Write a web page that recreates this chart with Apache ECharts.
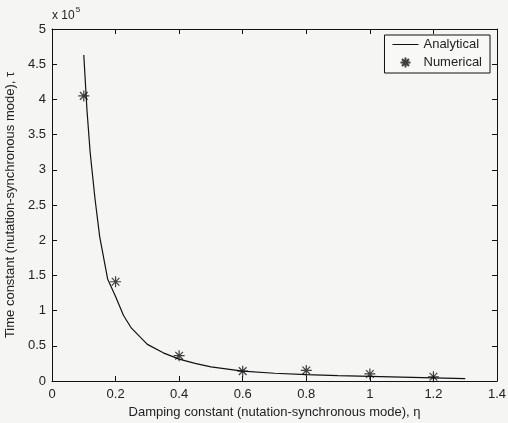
<!DOCTYPE html>
<html>
<head>
<meta charset="utf-8">
<script src="https://cdn.jsdelivr.net/npm/echarts@6/dist/echarts.min.js"></script>
<style>
  html, body { margin: 0; padding: 0; background: #f5f5f3; }
  #chart { width: 508px; height: 423px; }
</style>
</head>
<body>
<div id="chart"></div>
<script>
// Analytical curve: damping constant η and time constant τ (×10^5)
const analyticalEta = [0.1, 0.11, 0.12, 0.135, 0.15, 0.175, 0.2, 0.225, 0.25, 0.3, 0.35, 0.4, 0.45, 0.5, 0.6, 0.7, 0.8, 0.9, 1.0, 1.1, 1.2, 1.3];
const analyticalTau = [4.63, 3.85, 3.25, 2.6, 2.05, 1.45, 1.2, 0.93, 0.75, 0.52, 0.4, 0.31, 0.25, 0.2, 0.14, 0.11, 0.09, 0.075, 0.065, 0.055, 0.045, 0.035];

// Numerical results
const numericalEta = [0.1, 0.2, 0.4, 0.6, 0.8, 1.0, 1.2];
const numericalTau = [4.05, 1.41, 0.36, 0.14, 0.15, 0.1, 0.06];

// Axis ticks
const xTicks = [0, 0.2, 0.4, 0.6, 0.8, 1, 1.2, 1.4];
const yTicks = [0, 0.5, 1, 1.5, 2, 2.5, 3, 3.5, 4, 4.5, 5];

const pair = (xs, ys) => xs.map((x, i) => [x, ys[i]]);

// Asterisk marker: four crossing strokes
const asterisk = 'path://M0,5L10,5M5,0L5,10M1.5,1.5L8.5,8.5M8.5,1.5L1.5,8.5';
// Legend swatch for the solid line: a thin horizontal bar
const lineSwatch = 'path://M0,0L26,0L26,1L0,1Z';

const font = '"Liberation Sans", Arial, sans-serif';
const tickLabel = (list) => (v) => {
  const t = list.find(k => Math.abs(k - v) < 1e-9);
  return t === undefined ? '' : String(t);
};
const baseAxis = {
  type: 'value',
  axisLine: { show: true, onZero: false, lineStyle: { color: '#111', width: 1 } },
  axisTick: { show: true, inside: true, length: 5, lineStyle: { color: '#111' } },
  splitLine: { show: false }
};

const chart = echarts.init(document.getElementById('chart'), null, { renderer: 'canvas' });
chart.setOption({
  backgroundColor: '#f5f5f3',
  animation: false,
  textStyle: { fontFamily: font },
  grid: { left: 52, right: 11, top: 29, bottom: 42, containLabel: false, outerBoundsMode: 'none' },
  xAxis: [
    Object.assign({}, baseAxis, {
      min: 0, max: 1.4, interval: 0.2, position: 'bottom',
      axisLabel: { color: '#222', fontSize: 13, fontFamily: font, margin: 7, formatter: tickLabel(xTicks) },
      name: 'Damping constant (nutation-synchronous mode), η',
      nameLocation: 'middle', nameGap: 24,
      nameTextStyle: { color: '#222', fontSize: 13, fontFamily: font }
    }),
    Object.assign({}, baseAxis, {
      min: 0, max: 1.4, interval: 0.2, position: 'top',
      axisLabel: { show: false }
    })
  ],
  yAxis: [
    Object.assign({}, baseAxis, {
      min: 0, max: 5, interval: 0.5, position: 'left',
      axisLabel: { color: '#222', fontSize: 13, fontFamily: font, margin: 6, formatter: tickLabel(yTicks) },
      name: 'Time constant (nutation-synchronous mode), τ',
      nameLocation: 'middle', nameGap: 31, nameRotate: 90,
      nameTextStyle: { color: '#222', fontSize: 13, fontFamily: font }
    }),
    Object.assign({}, baseAxis, {
      min: 0, max: 5, interval: 0.5, position: 'right',
      axisLabel: { show: false }
    })
  ],
  legend: {
    orient: 'vertical',
    right: 18, top: 35,
    itemWidth: 26, itemHeight: 10, itemGap: 4,
    padding: [3, 8, 3, 8],
    symbolKeepAspect: true,
    backgroundColor: '#f8f8f6',
    borderColor: '#111', borderWidth: 1, borderRadius: 0,
    textStyle: { color: '#222', fontSize: 13, fontFamily: font },
    data: [
      { name: 'Analytical', icon: lineSwatch, itemStyle: { color: '#111' } },
      'Numerical'
    ]
  },
  graphic: [
    {
      type: 'text', left: 52, top: 6,
      style: {
        text: '{a|x 10}{b|5}',
        rich: {
          a: { fontSize: 12, fontFamily: font, fill: '#222', verticalAlign: 'bottom' },
          b: { fontSize: 8, fontFamily: font, fill: '#222', verticalAlign: 'top', padding: [0, 0, 8, 1] }
        }
      }
    }
  ],
  series: [
    {
      name: 'Analytical', type: 'line',
      data: pair(analyticalEta, analyticalTau),
      symbol: 'none', smooth: false,
      lineStyle: { color: '#111', width: 1.2 },
      itemStyle: { color: '#111' }
    },
    {
      name: 'Numerical', type: 'scatter',
      data: pair(numericalEta, numericalTau),
      symbol: asterisk, symbolSize: 11,
      itemStyle: { color: 'none', borderColor: '#111', borderWidth: 1.2 }
    }
  ]
});
</script>
</body>
</html>
